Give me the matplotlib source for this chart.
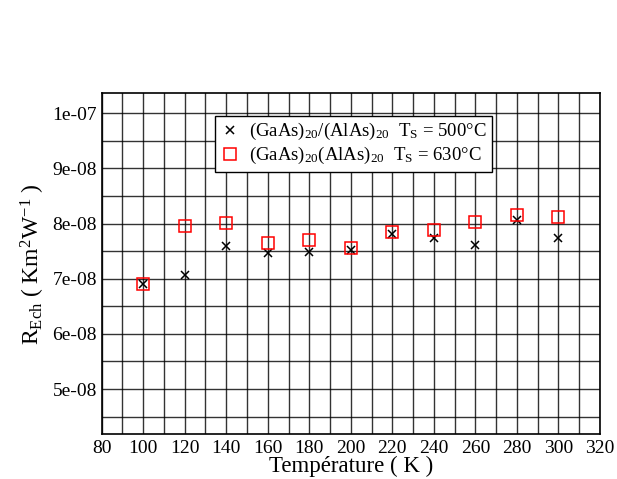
import matplotlib
matplotlib.use("Agg")
import matplotlib.pyplot as plt
from matplotlib.ticker import MultipleLocator

plt.rcParams['font.family'] = ['Liberation Serif', 'DejaVu Serif']
plt.rcParams['mathtext.fontset'] = 'custom'
plt.rcParams['mathtext.rm'] = 'Liberation Serif'
plt.rcParams['mathtext.it'] = 'Liberation Serif'
plt.rcParams['mathtext.default'] = 'rm'

temps = [100, 120, 140, 160, 180, 200, 220, 240, 260, 280, 300]
r_500 = [6.90e-08, 7.07e-08, 7.59e-08, 7.47e-08, 7.48e-08, 7.53e-08, 7.82e-08, 7.74e-08, 7.62e-08, 8.07e-08, 7.74e-08]
r_630 = [6.91e-08, 7.95e-08, 8.01e-08, 7.64e-08, 7.70e-08, 7.55e-08, 7.85e-08, 7.89e-08, 8.02e-08, 8.15e-08, 8.12e-08]
label_500 = "(GaAs)$_{20}$/(AlAs)$_{20}$  T$_{S}$ = 500°C"
label_630 = "(GaAs)$_{20}$(AlAs)$_{20}$  T$_{S}$ = 630°C"
xticks = [80, 100, 120, 140, 160, 180, 200, 220, 240, 260, 280, 300, 320]
yticks = [5e-08, 6e-08, 7e-08, 8e-08, 9e-08, 1e-07]
ytick_labels = ["5e-08", "6e-08", "7e-08", "8e-08", "9e-08", "1e-07"]

fig = plt.figure(figsize=(6.17, 4.79), dpi=100)
ax = fig.add_axes([0.1648, 0.0933, 0.8076, 0.7117])

ax.set_xlim(80, 320)
ax.set_ylim(4.18e-08, 1.036e-07)
ax.set_xticks(xticks)
ax.set_yticks(yticks)
ax.set_yticklabels(ytick_labels)
ax.xaxis.set_minor_locator(MultipleLocator(10))
ax.yaxis.set_minor_locator(MultipleLocator(0.5e-08))
ax.grid(True, which='both', color='black', linewidth=1.0, alpha=0.8)
ax.set_axisbelow(True)
ax.tick_params(which='both', direction='in', length=0, labelsize=14)
ax.tick_params(axis='x', pad=4)
for s in ax.spines.values():
    s.set_linewidth(1.2)

ax.plot(temps, r_500, linestyle='none', marker='x', color='black', markersize=6, markeredgewidth=1.1, label=label_500, zorder=3)
ax.plot(temps, r_630, linestyle='none', marker='s', markerfacecolor='none', markeredgecolor='red', markersize=9, markeredgewidth=1.1, label=label_630, zorder=3)

ax.set_xlabel("Température ( K )", fontsize=16.5)
ax.xaxis.set_label_coords(0.5, -0.062)
ax.set_ylabel("R$_{Ech}$ ( Km$^{2}$W$^{-1}$ )", fontsize=17, labelpad=4)

leg = ax.legend(loc='upper left', bbox_to_anchor=(0.227, 0.935), fontsize=13.5,
                frameon=True, fancybox=False, edgecolor='black', framealpha=1,
                handlelength=1.0, handletextpad=0.5, borderpad=0.3, labelspacing=0.15,
                borderaxespad=0)
leg.get_frame().set_linewidth(1.0)

fig.savefig("out.png", dpi=100)
